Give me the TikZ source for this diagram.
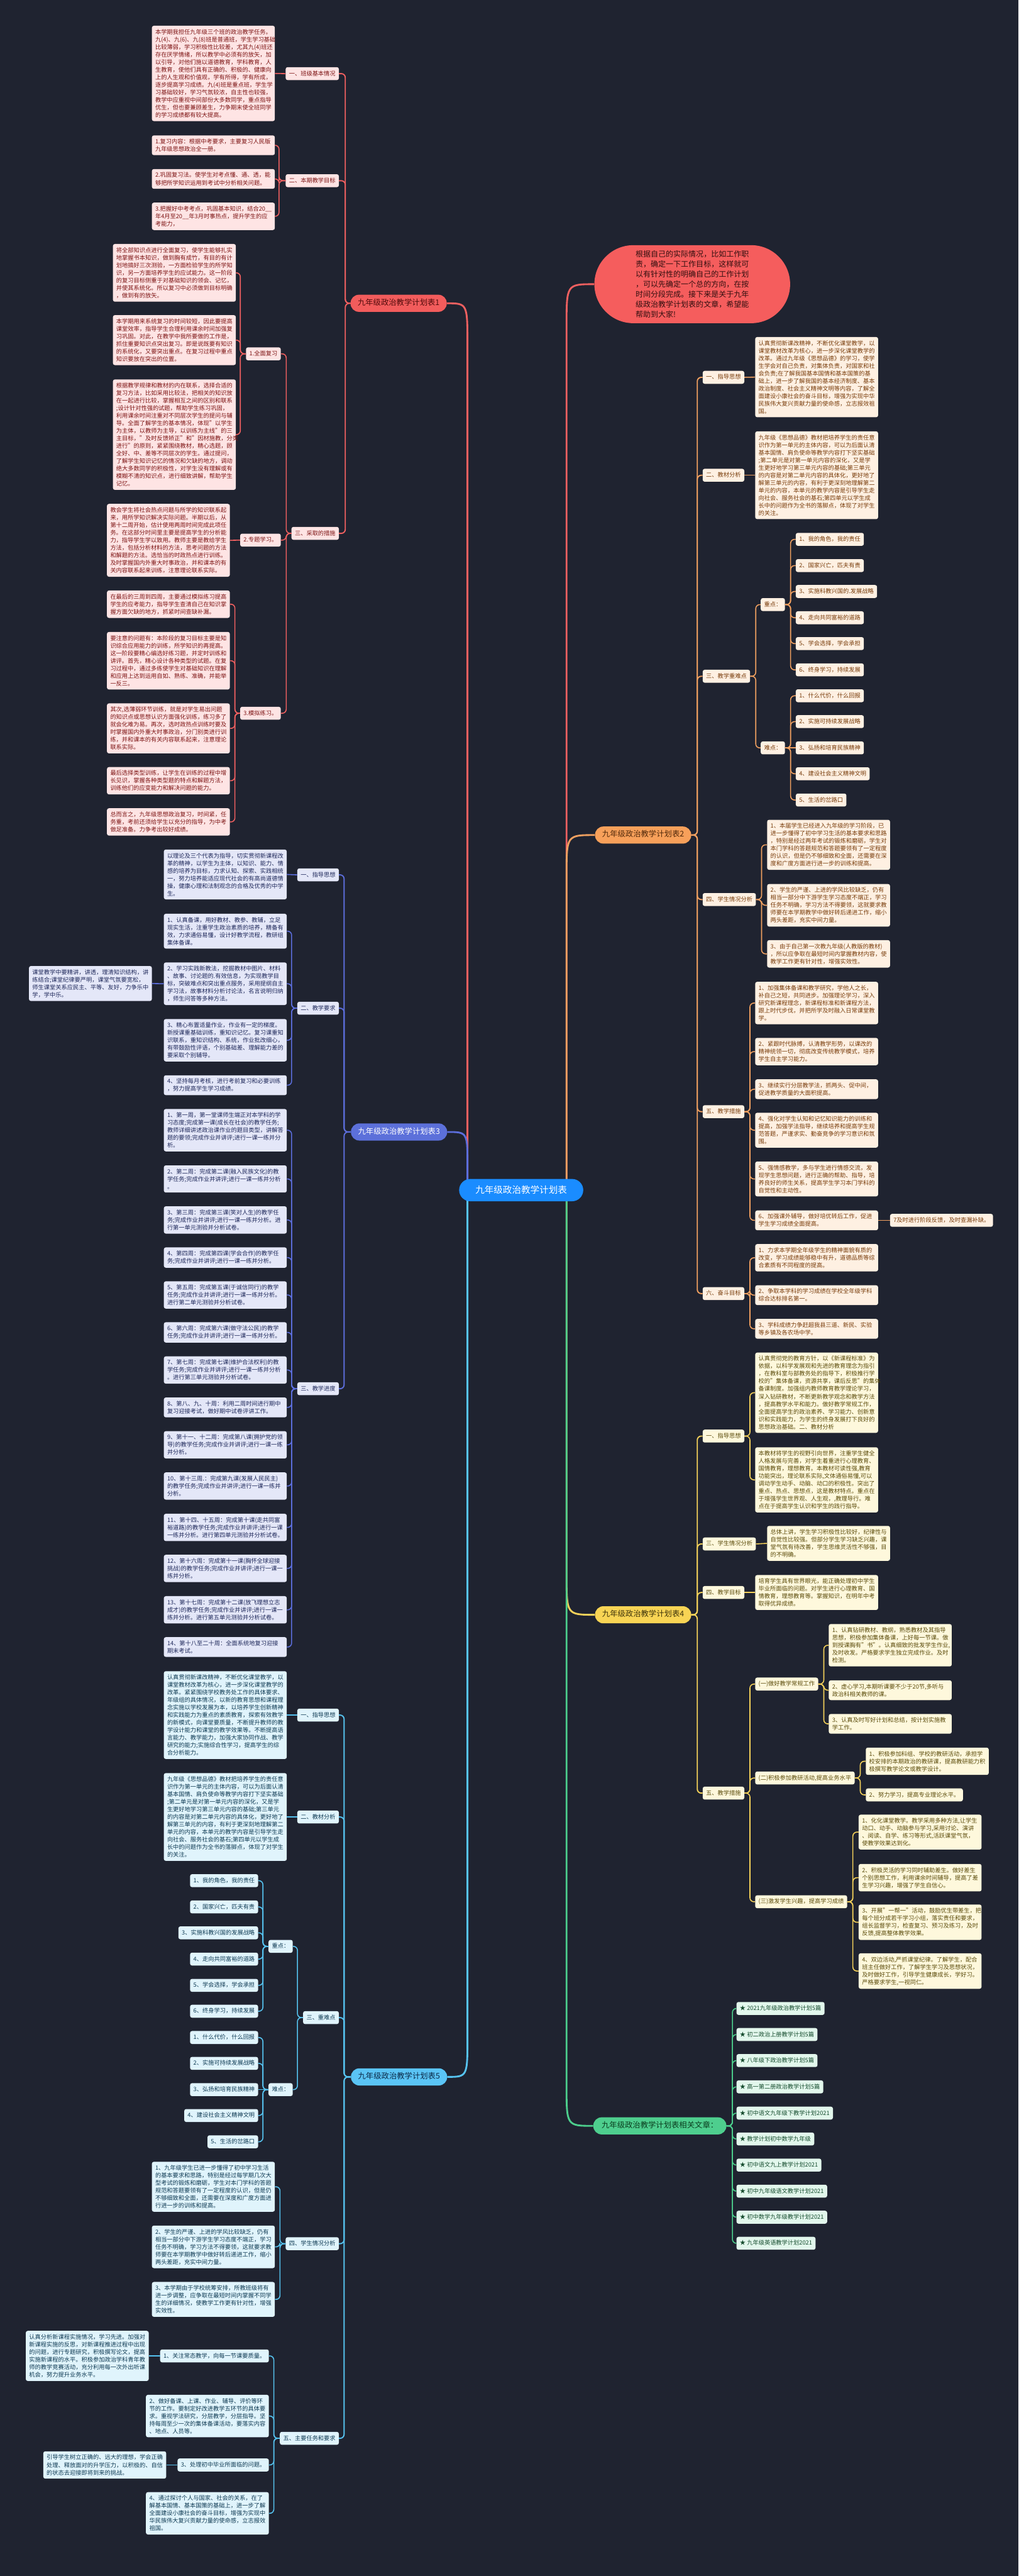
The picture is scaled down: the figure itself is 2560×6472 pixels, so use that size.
\documentclass[tikz,border=0pt]{standalone}
\usepackage{fontspec}
\setmainfont{Noto Sans CJK SC}
\definecolor{bg}{RGB}{31,35,48}
\definecolor{aL}{RGB}{240,96,96}\definecolor{aM}{RGB}{242,92,92}\definecolor{aB}{RGB}{254,228,228}\definecolor{aT}{RGB}{125,20,20}\definecolor{aD}{RGB}{80,10,10}
\definecolor{bL}{RGB}{240,160,96}\definecolor{bM}{RGB}{247,160,90}\definecolor{bB}{RGB}{254,240,226}\definecolor{bT}{RGB}{120,60,10}\definecolor{bD}{RGB}{80,40,10}
\definecolor{cL}{RGB}{92,110,220}\definecolor{cM}{RGB}{92,112,218}\definecolor{cB}{RGB}{228,231,248}\definecolor{cT}{RGB}{30,40,90}
\definecolor{dL}{RGB}{245,210,90}\definecolor{dM}{RGB}{248,212,84}\definecolor{dB}{RGB}{254,248,220}\definecolor{dT}{RGB}{90,75,10}\definecolor{dD}{RGB}{60,50,10}
\definecolor{eL}{RGB}{86,195,240}\definecolor{eM}{RGB}{90,196,245}\definecolor{eB}{RGB}{224,244,252}\definecolor{eT}{RGB}{14,58,82}\definecolor{eD}{RGB}{10,40,70}
\definecolor{fL}{RGB}{76,206,140}\definecolor{fM}{RGB}{78,206,142}\definecolor{fB}{RGB}{226,247,236}\definecolor{fT}{RGB}{20,75,45}\definecolor{fD}{RGB}{10,60,30}
\definecolor{callF}{RGB}{245,93,93}\definecolor{callT}{RGB}{50,15,15}
\definecolor{ctrF}{RGB}{26,140,255}
\newcommand{\bxf}{\fontsize{14.6pt}{19pt}\selectfont}
\newcommand{\mnf}{\fontsize{19.5pt}{24pt}\selectfont}
\newcommand{\lk}[4]{\draw[#1] (#2.west) -- ++(-#4,0) |- (#3.east);}
\newcommand{\rk}[4]{\draw[#1] (#2.east) -- ++(#4,0) |- (#3.west);}
\newcommand{\txtJC}{九年级《思想品德》教材把培养学生的责任意\\识作为第一单元的主体内容，可以为后面认清\\基本国情、肩负使命等教学内容打下坚实基础\\;第二单元是对第一单元内容的深化，又是学\\生更好地学习第三单元内容的基础;第三单元\\的内容是对第二单元内容的具体化，更好地了\\解第三单元的内容，有利于更深刻地理解第二\\单元的内容，本单元的教学内容是引导学生走\\向社会、服务社会的基石;第四单元以学生成\\长中的问题作为全书的落脚点，体现了对学生\\的关注。}
\begin{document}
\begin{tikzpicture}[x=1pt,y=-1pt,
 base/.style={rounded corners=5pt, inner xsep=8.5pt, inner ysep=8.5pt, align=left, font=\bxf},
 one/.style={base, text height=12.5pt, text depth=3pt},
 wide/.style={base, text width=292pt},
 main/.style={rounded corners=21pt, minimum height=43pt, inner xsep=18pt, font=\mnf, text height=14pt, text depth=4pt},
 sa/.style={fill=aB, text=aT}, sb/.style={fill=bB, text=bT}, sc/.style={fill=cB, text=cT},
 sd/.style={fill=dB, text=dT}, se/.style={fill=eB, text=eT}, sf/.style={fill=fB, text=fT},
 la/.style={draw=aL, line width=2.5pt, rounded corners=10pt}, lb/.style={draw=bL, line width=2.5pt, rounded corners=10pt},
 lc/.style={draw=cL, line width=2.5pt, rounded corners=10pt}, ld/.style={draw=dL, line width=2.5pt, rounded corners=10pt},
 le/.style={draw=eL, line width=2.5pt, rounded corners=10pt}, lf/.style={draw=fL, line width=2.5pt, rounded corners=10pt},
 big/.style={line width=4.5pt}
]
\path[use as bounding box, fill=bg] (0,0) rectangle (2560,6472);

% ===== Section 1 =====
\node[main, fill=aM, text=aD] (m1) at (1002,762) {九年级政治教学计划表1};
\node[one,sa,anchor=east] (a0) at (852,185) {一、班级基本情况};
\node[wide,sa,anchor=east] (a1) at (691,184.5) {本学期我担任九年级三个班的政治教学任务。\\九(4)、九(6)、九(8)班是普通班，学生学习基础\\比较薄弱，学习积极性比较差，尤其九(4)班还\\存在厌学情绪，所以教学中必须有的放矢，加\\以引导，对他们施以道德教育，学科教育，人\\生教育，使他们具有正确的、积极的、健康向\\上的人生观和价值观，学有所得，学有所成，\\逐步提高学习成绩。九(4)班是重点班，学生学\\习基础较好，学习气氛较浓，自主性也较强，\\教学中应重视中间部份大多数同学，重点指导\\优生，但也要兼顾差生，力争期末使全班同学\\的学习成绩都有较大提高。};
\node[one,sa,anchor=east] (b0) at (852,454) {二、本期教学目标};
\node[wide,sa,anchor=east] (b1) at (691,365) {1.复习内容：根据中考要求，主要复习人民版\\九年级思想政治全一册。};
\node[wide,sa,anchor=east] (b2) at (691,449.5) {2.巩固复习法。使学生对考点懂、通、透，能\\够把所学知识运用到考试中分析相关问题。};
\node[wide,sa,anchor=east] (b3) at (691,543.5) {3.把握好中考考点，巩固基本知识，结合20\_\_\\年4月至20\_\_年3月时事热点，提升学生的应\\考能力，};
\node[one,sa,anchor=east] (c0) at (852,1340) {三、采取的措施};
\node[one,sa,anchor=east] (c1) at (706,889) {1.全面复习};
\node[wide,sa,anchor=east] (c1a) at (593,685.5) {将全部知识点进行全面复习，使学生能够扎实\\地掌握书本知识，做到胸有成竹，有目的有计\\划地搞好三次测验，一方面检验学生的所学知\\识，另一方面培养学生的应试能力。这一阶段\\的复习目标侧重于对基础知识的领会、记忆，\\并使其系统化。所以复习中必须做到目标明确\\，做到有的放矢。};
\node[wide,sa,anchor=east] (c1b) at (593,854.5) {本学期用来系统复习的时间较短，因此要提高\\课堂效率，指导学生合理利用课余时间加强复\\习巩固。对此，在教学中我所要做的工作是，\\抓住重要知识点突出复习。即是说既要有知识\\的系统化，又要突出重点。在复习过程中重点\\知识要放在突出的位置。};
\node[wide,sa,anchor=east] (c1c) at (593,1092) {根据教学规律和教材的内在联系，选择合适的\\复习方法，比如采用比较法，把相关的知识放\\在一起进行比较，掌握相互之间的区别和联系\\;设计针对性强的试题，帮助学生练习巩固，\\利用课余时间注重对不同层次学生的提问与辅\\导。全面了解学生的基本情况，体现"以学生\\为主体，以教师为主导，以训练为主线"的三\\主目标，"及时反馈矫正"和"因材施教，分类\\进行"的原则，紧紧围绕教材，精心选题，顾\\全好、中、差等不同层次的学生。通过提问，\\了解学生知识记忆的情况和欠缺的地方，调动\\绝大多数同学的积极性，对学生没有理解或有\\模糊不清的知识点，进行细致讲解，帮助学生\\记忆。};
\node[one,sa,anchor=east] (c2) at (706,1357) {2.专题学习。};
\node[wide,sa,anchor=east] (c2a) at (578,1357.5) {教会学生将社会热点问题与所学的知识联系起\\来，用所学知识解决实际问题。半期以后，从\\第十二周开始，估计使用两周时间完成此项任\\务。在这部分时间里主要是提高学生的分析能\\力，指导学生学以致用。教师主要是教给学生\\方法，包括分析材料的方法，思考问题的方法\\和解题的方法。选恰当的时政热点进行训练。\\及时掌握国内外重大时事政治，并和课本的有\\关内容联系起来训练，注意理论联系实际。};
\node[one,sa,anchor=east] (c3) at (706,1792) {3.模拟练习。};
\node[wide,sa,anchor=east] (c3a) at (578,1518) {在最后的三周到四周，主要通过模拟练习提高\\学生的应考能力，指导学生查清自己在知识掌\\握方面欠缺的地方，抓紧时间查缺补漏。};
\node[wide,sa,anchor=east] (c3b) at (578,1660) {要注意的问题有：本阶段的复习目标主要是知\\识综合应用能力的训练，所学知识的再提高。\\这一阶段要精心编选好练习题，并定时训练和\\讲评。首先，精心设计各种类型的试题。在复\\习过程中，通过多练使学生对基础知识在理解\\和应用上达到运用自如、熟练、准确，并能举\\一反三。};
\node[wide,sa,anchor=east] (c3c) at (578,1830) {其次,选薄弱环节训练，就是对学生易出问题\\的知识点或思想认识方面强化训练，练习多了\\就会化难为易。再次，选时政热点训练时要及\\时掌握国内外重大时事政治，分门别类进行训\\练，并和课本的有关内容联系起来，注意理论\\联系实际。};
\node[wide,sa,anchor=east] (c3d) at (578,1961.5) {最后选择类型训练，让学生在训练的过程中增\\长见识，掌握各种类型题的特点和解题方法，\\训练他们的应变能力和解决问题的能力。};
\node[wide,sa,anchor=east] (c3e) at (578,2065) {总而言之，九年级思想政治复习，时间紧，任\\务重，考前还须给学生以充分的指导，为中考\\做足准备。力争考出较好成绩。};
\lk{la,line width=3pt}{m1}{a0}{13}\lk{la,line width=3pt}{m1}{b0}{13}\lk{la,line width=3pt}{m1}{c0}{13}
\draw[la] (a0.west) -- (a1.east);
\lk{la}{b0}{b1}{16.5}\lk{la}{b0}{b2}{16.5}\lk{la}{b0}{b3}{16.5}
\lk{la}{c0}{c1}{13}\lk{la}{c0}{c2}{13}\lk{la}{c0}{c3}{13}
\lk{la}{c1}{c1a}{14}\lk{la}{c1}{c1b}{14}\lk{la}{c1}{c1c}{14}
\draw[la] (c2.west) -- (c2a.east);
\lk{la}{c3}{c3a}{13}\lk{la}{c3}{c3b}{13}\lk{la}{c3}{c3c}{13}\lk{la}{c3}{c3d}{13}\lk{la}{c3}{c3e}{13}

% ===== Callout =====
\node[rounded corners=98pt, minimum width=492pt, minimum height=196pt, fill=callF, text=callT, align=left, font=\fontsize{19pt}{25.3pt}\selectfont] (call) at (1740,714) {根据自己的实际情况，比如工作职\\责，确定一下工作目标，这样就可\\以有针对性的明确自己的工作计划\\，可以先确定一个总的方向，在按\\时间分段完成。接下来是关于九年\\级政治教学计划表的文章，希望能\\帮助到大家!};

% ===== Section 2 =====
\node[main, fill=bM, text=bD] (m2) at (1616.5,2098) {九年级政治教学计划表2};
\node[one,sb,anchor=west] (n0) at (1766,948) {一、指导思想};
\node[wide,sb,anchor=west] (n1) at (1898,947.5) {认真贯彻新课改精神，不断优化课堂教学，以\\课堂教材改革为核心，进一步深化课堂教学的\\改革。通过九年级《思想品德》的学习，使学\\生学会对自己负责，对集体负责，对国家和社\\会负责;在了解我国基本国情和基本国策的基\\础上，进一步了解我国的基本经济制度、基本\\政治制度、社会主义精神文明等内容，了解全\\面建设小康社会的奋斗目标，增强为实现中华\\民族伟大复兴贡献力量的使命感，立志报效祖\\国。};
\node[one,sb,anchor=west] (o0) at (1766,1194) {二、教材分析};
\node[wide,sb,anchor=west] (o1) at (1898,1194) {\txtJC};
\node[one,sb,anchor=west] (p0) at (1766,1699) {三、教学重难点};
\node[one,sb,anchor=west] (p1) at (1912,1519) {重点：};
\node[one,sb,anchor=west] (p2) at (1912,1879) {难点：};
\node[one,sb,anchor=west] (p1a) at (2000,1355) {1、我的角色，我的责任};
\node[one,sb,anchor=west] (p1b) at (2000,1421) {2、国家兴亡，匹夫有责};
\node[one,sb,anchor=west] (p1c) at (2000,1486) {3、实施科教兴国的.发展战略};
\node[one,sb,anchor=west] (p1d) at (2000,1552) {4、走向共同富裕的道路};
\node[one,sb,anchor=west] (p1e) at (2000,1617) {5、学会选择，学会承担};
\node[one,sb,anchor=west] (p1f) at (2000,1683) {6、终身学习，持续发展};
\node[one,sb,anchor=west] (p2a) at (2000,1748) {1、什么代价，什么回报};
\node[one,sb,anchor=west] (p2b) at (2000,1813) {2、实施可持续发展战略};
\node[one,sb,anchor=west] (p2c) at (2000,1879) {3、弘扬和培育民族精神};
\node[one,sb,anchor=west] (p2d) at (2000,1944) {4、建设社会主义精神文明};
\node[one,sb,anchor=west] (p2e) at (2000,2010) {5、生活的岔路口};
\node[one,sb,anchor=west] (q0) at (1766,2260) {四、学生情况分析};
\node[wide,sb,anchor=west] (q1) at (1928,2122.5) {1、本届学生已经进入九年级的学习阶段，已\\进一步懂得了初中学习生活的基本要求和思路\\，特别是经过两年考试的锻炼和磨砺，学生对\\本门学科的答题规范和答题要领有了一定程度\\的认识，但是仍不够细致和全面，还需要在深\\度和广度方面进行进一步的训练和提高。};
\node[wide,sb,anchor=west] (q2) at (1928,2274.5) {2、学生的严谨、上进的学风比较缺乏，仍有\\相当一部分中下游学生学习态度不端正，学习\\任务不明确，学习方法不得要领，这就要求教\\师要在本学期教学中做好转后递进工作，缩小\\两头差距，充实中间力量。};
\node[wide,sb,anchor=west] (q3) at (1928,2396.5) {3、由于自己第一次教九年级(人教版的教材)\\，所以应争取在最短时间内掌握教材内容，使\\教学工作更有针对性，增强实效性。};
\node[one,sb,anchor=west] (r0) at (1766,2793) {五、教学措施};
\node[wide,sb,anchor=west] (r1) at (1898,2520) {1、加强集体备课和教学研究，学他人之长，\\补自己之短，共同进步。加强理论学习，深入\\研究新课程理念，新课程标准和新课程方法，\\跟上时代步伐，并把所学及时融入日常课堂教\\学。};
\node[wide,sb,anchor=west] (r2) at (1898,2642) {2、紧跟时代脉搏，认清教学形势，以课改的\\精神统领一切，彻底改变传统教学模式，培养\\学生自主学习能力。};
\node[wide,sb,anchor=west] (r3) at (1898,2736.5) {3、继续实行分层教学法，抓两头、促中间，\\促进教学质量的大面积提高。};
\node[wide,sb,anchor=west] (r4) at (1898,2839.5) {4、强化对学生认知和记忆知识能力的训练和\\提高，加强学法指导，继续培养和提高学生规\\范答题，严谨求实、勤奋竞争的学习意识和氛\\围。};
\node[wide,sb,anchor=west] (r5) at (1898,2962) {5、强情感教学，多与学生进行情感交流，发\\现学生思想问题，进行正确的帮助、指导，培\\养良好的师生关系，提高学生学习本门学科的\\自觉性和主动性。};
\node[wide,sb,anchor=west] (r6) at (1898,3066) {6、加强课外辅导，做好培优转后工作，促进\\学生学习成绩全面提高。};
\node[one,sb,anchor=west] (r7) at (2237,3066) {7及时进行阶段反馈，及时查漏补缺。};
\node[one,sb,anchor=west] (s0) at (1766,3250) {六、奋斗目标};
\node[wide,sb,anchor=west] (s1) at (1898,3160) {1、力求本学期全年级学生的精神面貌有质的\\改变，学习成绩能够稳中有升，道德品质等综\\合素质有不同程度的提高。};
\node[wide,sb,anchor=west] (s2) at (1898,3254) {2、争取本学科的学习成绩在学校全年级学科\\综合达标排名第一。};
\node[wide,sb,anchor=west] (s3) at (1898,3338.5) {3、学科成绩力争赶超我县三道、新民、实验\\等乡镇及各农场中学。};
\foreach \t in {n0,o0,p0,q0,r0,s0}{\rk{lb,line width=3pt}{m2}{\t}{15}}
\draw[lb] (n0.east) -- (n1.west);
\draw[lb] (o0.east) -- (o1.west);
\rk{lb}{p0}{p1}{14}\rk{lb}{p0}{p2}{14}
\foreach \t in {p1a,p1b,p1c,p1d,p1e,p1f}{\rk{lb}{p1}{\t}{14}}
\foreach \t in {p2a,p2b,p2d,p2e}{\rk{lb}{p2}{\t}{14}}
\draw[lb] (p2.east) -- (p2c.west);
\foreach \t in {q1,q2,q3}{\rk{lb}{q0}{\t}{14}}
\foreach \t in {r1,r2,r3,r4,r5,r6}{\rk{lb}{r0}{\t}{14}}
\draw[lb] (r6.east) -- (r7.west);
\foreach \t in {s1,s2,s3}{\rk{lb}{s0}{\t}{14}}

% ===== Section 3 =====
\node[main, fill=cM, text=white] (m3) at (1003,2844) {九年级政治教学计划表3};
\node[one,sc,anchor=east] (d0) at (852,2198) {一、指导思想};
\node[wide,sc,anchor=east] (d1) at (721,2197) {以理论及三个代表为指导，切实贯彻新课程改\\革的精神，以学生为主体，以知识、能力、情\\感的培养为目标，力求认知、探索、实践相统\\一，努力培养能适应现代社会的有高尚道德情\\操，健康心理和法制观念的合格及优秀的中学\\生。};
\node[one,sc,anchor=east] (e0) at (852,2533) {二、教学要求};
\node[wide,sc,anchor=east] (e1) at (721,2339.5) {1、认真备课，用好教材、教参、教辅，立足\\现实生活，注重学生政治素质的培养，精备有\\效，力求通俗易懂，设计好教学流程，教研组\\集体备课。};
\node[wide,sc,anchor=east] (e2) at (721,2471.5) {2、学习实践新教法，挖掘教材中图片、材料\\、故事、讨论题的.有效信息，为实现教学目\\标，突破难点和突出重点服务，采用提纲自主\\学习法，故事材料分析讨论法，名言说明归纳\\，师生问答等多种方法。};
\node[wide,sc,anchor=east] (e2s) at (382,2471) {课堂教学中要精讲，讲透，理清知识结构，讲\\练结合;课堂纪律要严明，课堂气氛要宽松，\\师生课堂关系应民主、平等、友好，力争乐中\\学，学中乐。};
\node[wide,sc,anchor=east] (e3) at (721,2613.5) {3、精心布置适量作业，作业有一定的梯度。\\新授课重基础训练，重知识记忆。复习课重知\\识联系，重知识结构、系统，作业批改细心，\\有带鼓励性评语，个别基础差、理解能力差的\\要采取个别辅导。};
\node[wide,sc,anchor=east] (e4) at (721,2726.5) {4、坚持每月考核，进行考前复习和必要训练\\，努力提高学生学习成绩。};
\node[one,sc,anchor=east] (f0) at (852,3489) {三、教学进度};
\node[wide,sc,anchor=east] (f1) at (721,2839.5) {1、第一周，第一堂课师生端正对本学科的学\\习态度;完成第一课(成长在社会)的教学任务;\\教师详细讲述政治课作业的题目类型，讲解答\\题的要领;完成作业并讲评;进行一课一练并分\\析。};
\node[wide,sc,anchor=east] (f2) at (721,2962) {2、第二周：完成第二课(融入民族文化)的教\\学任务;完成作业并讲评;进行一课一练并分析\\。};
\node[wide,sc,anchor=east] (f3) at (721,3065) {3、第三周：完成第三课(笑对人生)的教学任\\务;完成作业并讲评;进行一课一练并分析。进\\行第一单元测验并分析试卷。};
\node[wide,sc,anchor=east] (f4) at (721,3159.5) {4、第四周：完成第四课(学会合作)的教学任\\务;完成作业并讲评;进行一课一练并分析。};
\node[wide,sc,anchor=east] (f5) at (721,3253.5) {5、第五周：完成第五课(于诚信同行)的教学\\任务;完成作业并讲评;进行一课一练并分析。\\进行第二单元测验并分析试卷。};
\node[wide,sc,anchor=east] (f6) at (721,3347.5) {6、第六周：完成第六课(做守法公民)的教学\\任务;完成作业并讲评;进行一课一练并分析。};
\node[wide,sc,anchor=east] (f7) at (721,3442) {7、第七周：完成第七课(维护合法权利)的教\\学任务;完成作业并讲评;进行一课一练并分析\\。进行第三单元测验并分析试卷。};
\node[wide,sc,anchor=east] (f8) at (721,3536) {8、第八、九、十周：利用二周时间进行期中\\复习迎接考试，做好期中试卷评讲工作。};
\node[wide,sc,anchor=east] (f9) at (721,3630) {9、第十一、十二周：完成第八课(拥护党的领\\导)的教学任务;完成作业并讲评;进行一课一练\\并分析。};
\node[wide,sc,anchor=east] (f10) at (721,3733.5) {10、第十三周.：完成第九课(发展人民民主)\\的教学任务;完成作业并讲评;进行一课一练并\\分析。};
\node[wide,sc,anchor=east] (f11) at (721,3837.5) {11、第十四、十五周：完成第十课(走共同富\\裕道路)的教学任务;完成作业并讲评;进行一课\\一练并分析。进行第四单元测验并分析试卷。};
\node[wide,sc,anchor=east] (f12) at (721,3940.5) {12、第十六周：完成第十一课(胸怀全球迎接\\挑战)的教学任务;完成作业并讲评;进行一课一\\练并分析。};
\node[wide,sc,anchor=east] (f13) at (721,4044.5) {13、第十七周：完成第十二课(放飞理想立志\\成才)的教学任务;完成作业并讲评;进行一课一\\练并分析。进行第五单元测验并分析试卷。};
\node[wide,sc,anchor=east] (f14) at (721,4138) {14、第十八至二十周：全面系统地复习迎接\\期末考试。};
\foreach \t in {d0,e0,f0}{\lk{lc,line width=3pt}{m3}{\t}{17}}
\draw[lc] (d0.west) -- (d1.east);
\foreach \t in {e1,e2,e3,e4}{\lk{lc}{e0}{\t}{14}}
\draw[lc] (e2.west) -- (e2s.east);
\foreach \t in {f1,f2,f3,f4,f5,f6,f7,f8,f9,f10,f11,f12,f13,f14}{\lk{lc}{f0}{\t}{14}}

% ===== Section 4 =====
\node[main, fill=dM, text=dD] (m4) at (1616.5,4057) {九年级政治教学计划表4};
\node[one,sd,anchor=west] (t0) at (1766,3608) {一、指导思想};
\node[wide,sd,anchor=west] (t1) at (1898,3499) {认真贯彻党的教育方针，以《新课程标准》为\\依据，以科学发展观和先进的教育理念为指引\\，在教科室与部教务处的指导下，积极推行学\\校的"集体备课，资源共享，课后反思"的集体\\备课制度。加强组内教师教育教学理论学习，\\深入钻研教材，不断更新教学观念和教学方法\\，提高教学水平和能力。做好教学常规工作，\\全面提高学生的政治素养、学习能力、创新意\\识和实践能力，为学生的终身发展打下良好的\\思想政治基础。二、教材分析};
\node[wide,sd,anchor=west] (t2) at (1898,3718) {本教材将学生的视野引向世界，注重学生健全\\人格发展与完善，对学生着重进行心理教育、\\国情教育，理想教育。本教材可读性强,教育\\功能突出，理论联系实际,文体通俗易懂,可以\\调动学生动手、动脑、动口的积极性。突出了\\重点、热点、思想点，这是教材特点。重点在\\于增强学生世界观、人生观，,教理导行。难\\点在于提高学生认识和学生的践行指导。};
\node[one,sd,anchor=west] (u0) at (1766,3879) {三、学生情况分析};
\node[wide,sd,anchor=west] (u1) at (1928,3877.5) {总体上讲，学生学习积极性比较好，纪律性与\\自觉性比较强。但部分学生学习缺乏兴趣，课\\堂气氛有待改善，学生思维灵活性不够强，目\\的不明确。};
\node[one,sd,anchor=west] (v0) at (1766,4001) {四、教学目标};
\node[wide,sd,anchor=west] (v1) at (1898,4001) {培育学生具有世界眼光，能正确处理初中学生\\毕业所面临的问题。对学生进行心理教育、国\\情教育，理想教育等。掌握知识，在明年中考\\取得优异成绩。};
\node[one,sd,anchor=west] (w0) at (1766,4505) {五、教学措施};
\node[one,sd,anchor=west] (w1) at (1898,4231) {(一)做好教学常规工作};
\node[one,sd,anchor=west] (w2) at (1898,4467) {(二)积极参加教研活动,提高业务水平};
\node[one,sd,anchor=west] (w3) at (1898,4778) {(三)激发学生兴趣，提高学习成绩};
\node[wide,sd,anchor=west] (w1a) at (2083,4133.5) {1、认真钻研教材、教纲，熟悉教材及其指导\\思想，积极参加集体备课，上好每一节课。做\\到授课胸有"书"。认真细致的批发学生作业,\\及时收发。严格要求学生独立完成作业。及时\\检测。};
\node[wide,sd,anchor=west] (w1b) at (2083,4246.5) {2、虚心学习,本期听课要不少于20节,多听与\\政治科相关教师的课。};
\node[wide,sd,anchor=west] (w1c) at (2083,4331) {3、认真及时写好计划和总结，按计划实施教\\学工作。};
\node[wide,sd,anchor=west] (w2a) at (2176,4425) {1、积极参加科组、学校的教研活动，承担学\\校安排的本期政治的教研课，提高教研能力积\\极撰写教学论文或教学设计。};
\node[one,sd,anchor=west] (w2b) at (2176,4509.5) {2、努力学习，提高专业理论水平。};
\node[wide,sd,anchor=west] (w3a) at (2158,4603) {1、化化课堂教学。教学采用多种方法,让学生\\动口、动手、动脑参与学习,采用讨论、演讲\\、阅读、自学、练习等形式,活跃课堂气氛，\\使教学效果达到化。};
\node[wide,sd,anchor=west] (w3b) at (2158,4717.5) {2、积极灵活的学习同时辅助差生。做好差生\\个别思想工作，利用课余时间辅导，提高了差\\生学习兴趣，增强了学生自信心。};
\node[wide,sd,anchor=west] (w3c) at (2158,4829.5) {3、开展"一帮一"活动，鼓励优生带差生，把\\每个班分成若干学习小组，落实责任和要求，\\组长监督学习，检查复习、预习及练习，及时\\反馈,提高整体教学效果。};
\node[wide,sd,anchor=west] (w3d) at (2158,4952) {4、双边活动,严抓课堂纪律。了解学生，配合\\班主任做好工作，了解学生学习及思想状况，\\及时做好工作，引导学生健康成长，学好习。\\严格要求学生,一视同仁。};
\foreach \t in {t0,u0,v0,w0}{\rk{ld,line width=3pt}{m4}{\t}{15}}
\rk{ld}{t0}{t1}{14}\rk{ld}{t0}{t2}{14}
\draw[ld] (u0.east) -- (u1.west);
\draw[ld] (v0.east) -- (v1.west);
\foreach \t in {w1,w2,w3}{\rk{ld}{w0}{\t}{14}}
\foreach \t in {w1a,w1b,w1c}{\rk{ld}{w1}{\t}{14}}
\foreach \t in {w2a,w2b}{\rk{ld}{w2}{\t}{14}}
\foreach \t in {w3a,w3b,w3c,w3d}{\rk{ld}{w3}{\t}{14}}

% ===== Section 5 =====
\node[main, fill=eM, text=eD] (m5) at (1003,5218) {九年级政治教学计划表5};
\node[one,se,anchor=east] (g0) at (852,4309) {一、指导思想};
\node[wide,se,anchor=east] (g1) at (721,4309) {认真贯彻新课改精神，不断优化课堂教学，以\\课堂教材改革为核心，进一步深化课堂教学的\\改革。紧紧围绕学校教务处工作的具体要求、\\年级组的具体情况，以新的教育思想和课程理\\念实施以学校发展为本，以培养学生创新精神\\和实践能力为重点的素质教育，探索有效教学\\的新模式，向课堂要质量，不断提升教师的教\\学设计能力和课堂的教学效果等。不断提高语\\言能力、教学能力，加强大家协同作战、教学\\研究的能力;实施综合性学习，提高学生的综\\合分析能力。};
\node[one,se,anchor=east] (h0) at (852,4565) {二、教材分析};
\node[wide,se,anchor=east] (h1) at (721,4565) {\txtJC};
\node[one,se,anchor=east] (i0) at (852,5069) {三、重难点};
\node[one,se,anchor=east] (i1) at (736,4890) {重点：};
\node[one,se,anchor=east] (i2) at (736,5250) {难点：};
\node[one,se,anchor=east] (i1a) at (649,4725) {1、我的角色，我的责任};
\node[one,se,anchor=east] (i1b) at (649,4791) {2、国家兴亡，匹夫有责};
\node[one,se,anchor=east] (i1c) at (649,4856) {3、实施科教兴国的发展战略};
\node[one,se,anchor=east] (i1d) at (649,4922) {4、走向共同富裕的道路};
\node[one,se,anchor=east] (i1e) at (649,4988) {5、学会选择，学会承担};
\node[one,se,anchor=east] (i1f) at (649,5053) {6、终身学习，持续发展};
\node[one,se,anchor=east] (i2a) at (649,5119) {1、什么代价，什么回报};
\node[one,se,anchor=east] (i2b) at (649,5184) {2、实施可持续发展战略};
\node[one,se,anchor=east] (i2c) at (649,5250) {3、弘扬和培育民族精神};
\node[one,se,anchor=east] (i2d) at (649,5315) {4、建设社会主义精神文明};
\node[one,se,anchor=east] (i2e) at (649,5381) {5、生活的岔路口};
\node[one,se,anchor=east] (j0) at (852,5637) {四、学生情况分析};
\node[wide,se,anchor=east] (j1) at (691,5494) {1、九年级学生已进一步懂得了初中学习生活\\的基本要求和思路，特别是经过每学期几次大\\型考试的锻炼和磨砺，学生对本门学科的答题\\规范和答题要领有了一定程度的认识，但是仍\\不够细致和全面，还需要在深度和广度方面进\\行进一步的训练和提高。};
\node[wide,se,anchor=east] (j2) at (691,5645) {2、学生的严谨、上进的学风比较缺乏，仍有\\相当一部分中下游学生学习态度不端正，学习\\任务不明确，学习方法不得要领，这就要求教\\师要在本学期教学中做好转后递进工作，缩小\\两头差距，充实中间力量。};
\node[wide,se,anchor=east] (j3) at (691,5777) {3、本学期由于学校统筹安排，所教班级将有\\进一步调整，应争取在最短时间内掌握不同学\\生的详细情况，使教学工作更有针对性，增强\\实效性。};
\node[one,se,anchor=east] (k0) at (852,6126) {五、主要任务和要求};
\node[one,se,anchor=east] (k1) at (676,5919) {1、关注常态教学，向每一节课要质量。};
\node[wide,se,anchor=east] (k1s) at (374,5919) {认真分析新课程实施情况，学习先进。加强对\\新课程实施的反思，对新课程推进过程中出现\\的问题，进行专题研究，积极撰写论文，提高\\实施新课程的水平。积极参加政治学科青年教\\师的教学竞赛活动，充分利用每一次外出听课\\机会，努力提升业务水平。};
\node[wide,se,anchor=east] (k2) at (676,6070) {2、做好备课、上课、作业、辅导、评价等环\\节的工作。要制定好改进教学五环节的具体要\\求。重视学法研究，分层教学，分层指导。坚\\持每周至少一次的集体备课活动，要落实内容\\、地点、人员等。};
\node[one,se,anchor=east] (k3) at (676,6193) {3、处理初中毕业所面临的问题。};
\node[wide,se,anchor=east] (k3s) at (418,6193) {引导学生树立正确的、远大的理想，学会正确\\处理、释放面对的升学压力，以积极的、自信\\的状态去迎接即将到来的挑战。};
\node[wide,se,anchor=north east] (k4) at (676,6261) {4、通过探讨个人与国家、社会的关系，在了\\解基本国情、基本国策的基础上，进一步了解\\全面建设小康社会的奋斗目标，增强为实现中\\华民族伟大复兴贡献力量的使命感，立志报效\\祖国。};
\foreach \t in {g0,h0,i0,j0,k0}{\lk{le,line width=3pt}{m5}{\t}{17}}
\draw[le] (g0.west) -- (g1.east);
\draw[le] (h0.west) -- (h1.east);
\lk{le}{i0}{i1}{14}\lk{le}{i0}{i2}{14}
\foreach \t in {i1a,i1b,i1c,i1d,i1e,i1f}{\lk{le}{i1}{\t}{14}}
\foreach \t in {i2a,i2b,i2d,i2e}{\lk{le}{i2}{\t}{14}}
\draw[le] (i2.west) -- (i2c.east);
\foreach \t in {j1,j2,j3}{\lk{le}{j0}{\t}{14}}
\foreach \t in {k1,k2,k3,k4}{\lk{le}{k0}{\t}{15}}
\draw[le] (k1.west) -- (k1s.east);
\draw[le] (k3.west) -- (k3s.east);

% ===== Related =====
\node[main, fill=fM, text=fD, inner xsep=21pt] (x0) at (1658.5,5341) {九年级政治教学计划表相关文章：};
\node[one,sf,anchor=west] (x1) at (1851,5046) {★ 2021九年级政治教学计划5篇};
\node[one,sf,anchor=west] (x2) at (1851,5111.5) {★ 初二政治上册教学计划5篇};
\node[one,sf,anchor=west] (x3) at (1851,5177) {★ 八年级下政治教学计划5篇};
\node[one,sf,anchor=west] (x4) at (1851,5243) {★ 高一第二册政治教学计划5篇};
\node[one,sf,anchor=west] (x5) at (1851,5309) {★ 初中语文九年级下教学计划2021};
\node[one,sf,anchor=west] (x6) at (1851,5374) {★ 教学计划初中数学九年级};
\node[one,sf,anchor=west] (x7) at (1851,5439.5) {★ 初中语文九上教学计划2021};
\node[one,sf,anchor=west] (x8) at (1851,5505) {★ 初中九年级语文教学计划2021};
\node[one,sf,anchor=west] (x9) at (1851,5570.5) {★ 初中数学九年级教学计划2021};
\node[one,sf,anchor=west] (x10) at (1851,5636) {★ 九年级英语教学计划2021};
\foreach \t in {x1,x2,x3,x4,x5,x6,x7,x8,x9,x10}{\rk{lf}{x0}{\t}{15}}

% ===== Center connectors =====
\coordinate (cl1) at (1175,2990);
\coordinate (cr1) at (1424,2990);
\draw[aL,big] (m1.east) .. controls (1175,762) .. (1175,870) -- (cl1);
\draw[aL,big] (call.west) .. controls (1424,714) .. (1424,820) -- (cr1);
\draw[bL,big] (m2.west) .. controls (1424,2098) .. (1424,2200) -- (cr1);
\draw[cL,big] (m3.east) .. controls (1175,2844) .. (1175,2930) -- (cl1);
\draw[dL,big] (m4.west) .. controls (1424,4057) .. (1424,3955) -- (cr1);
\draw[eL,big] (m5.east) .. controls (1175,5218) .. (1175,5116) -- (cl1);
\draw[fL,big] (x0.west) .. controls (1424,5341) .. (1424,5239) -- (cr1);
\node[rounded corners=28pt, minimum width=312pt, minimum height=56pt, fill=ctrF, text=white, font=\fontsize{23pt}{28pt}\selectfont] (ctr) at (1310,2990) {九年级政治教学计划表};
\end{tikzpicture}
\end{document}
